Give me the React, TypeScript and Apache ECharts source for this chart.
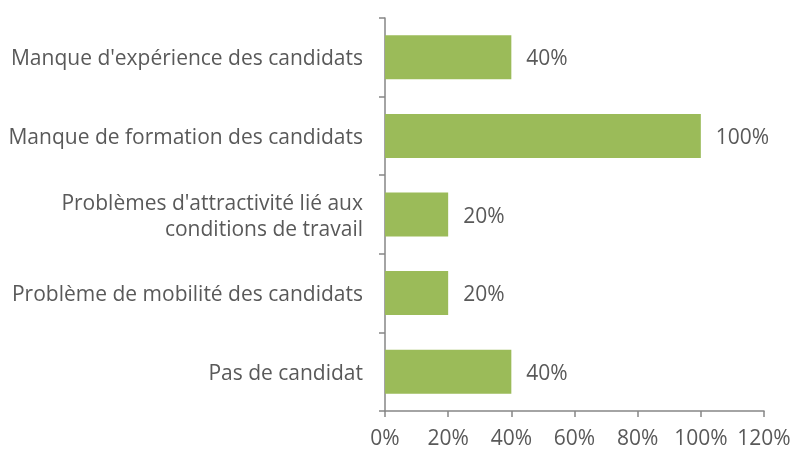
import React, { useEffect, useRef } from "react";
import * as echarts from "echarts";

const categories = [
  "Manque d'expérience des candidats",
  "Manque de formation des candidats",
  "Problèmes d'attractivité lié aux\nconditions de travail",
  "Problème de mobilité des candidats",
  "Pas de candidat",
];
const values = [40, 100, 20, 20, 40];
const xTicks = { min: 0, max: 120, interval: 20 };

const FONT = "'Open Sans', sans-serif";
const FS = 21;

export default function App() {
  const ref = useRef<HTMLDivElement>(null);
  useEffect(() => {
    const chart = echarts.init(ref.current!, null, { renderer: "svg" });
    chart.setOption({
      animation: false,
      grid: { left: 385, right: 45, top: 18, bottom: 41 },
      xAxis: {
        type: "value",
        min: xTicks.min,
        max: xTicks.max,
        interval: xTicks.interval,
        axisLine: { show: true, lineStyle: { color: "#868686", width: 1.5 } },
        axisTick: { show: true, length: 6, lineStyle: { color: "#868686", width: 1.5 } },
        splitLine: { show: false },
        axisLabel: {
          formatter: "{value}%",
          color: "#595959",
          fontSize: FS,
          fontFamily: FONT,
          margin: 15,
        },
      },
      yAxis: {
        type: "category",
        inverse: true,
        data: categories,
        axisLine: { show: true, lineStyle: { color: "#868686", width: 1.5 } },
        axisTick: { show: true, length: 6, lineStyle: { color: "#868686", width: 1.5 } },
        axisLabel: {
          color: "#595959",
          fontSize: FS,
          fontFamily: FONT,
          margin: 22,
          lineHeight: 26,
          align: "right",
        },
      },
      series: [
        {
          type: "bar",
          data: values,
          barCategoryGap: "44%",
          itemStyle: { color: "#9BBB59" },
          label: {
            show: true,
            position: "right",
            distance: 15,
            formatter: "{c}%",
            color: "#595959",
            fontSize: FS,
            fontFamily: FONT,
          },
        },
      ],
    });
    return () => chart.dispose();
  }, []);
  return (
    <div
      ref={ref}
      style={{ position: "fixed", left: 0, top: 0, width: 809, height: 452 }}
    />
  );
}
